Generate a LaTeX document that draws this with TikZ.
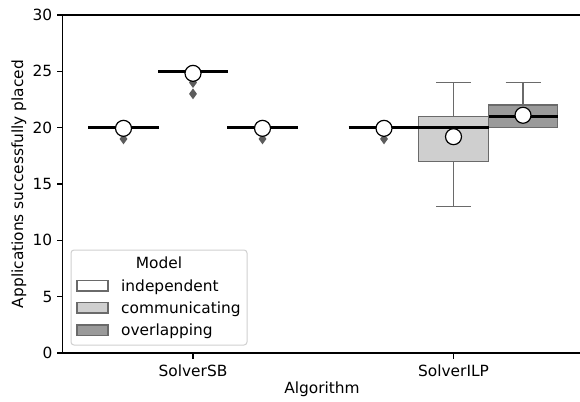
\documentclass[tikz,border=0pt]{standalone}
\usepackage{fontspec}
\setmainfont{DejaVu Sans}
\usetikzlibrary{shapes.geometric}
\definecolor{edgegray}{HTML}{6A6A6A}
\definecolor{fliergray}{HTML}{5C5C5C}
\definecolor{commfill}{HTML}{CFCFCF}
\definecolor{overfill}{HTML}{9A9A9A}
\definecolor{legborder}{HTML}{D0D0D0}
\def\datY#1{(353-11.267*(#1))}
\tikzset{
  spine/.style={black, line width=1.1pt},
  tickline/.style={black, line width=1.1pt},
  ticklab/.style={inner sep=0pt, font=\fontsize{15.4}{18}\selectfont},
  boxcomm/.style={draw=edgegray, fill=commfill, line width=1.5pt},
  boxover/.style={draw=edgegray, fill=overfill, line width=1.5pt},
  boxind/.style={draw=edgegray, fill=white, line width=1.5pt},
  whisk/.style={edgegray, line width=1.6pt},
  medline/.style={black, line width=2.8pt},
  meanmk/.style={circle, draw=black, fill=white, inner sep=0pt, minimum size=16pt, line width=1.2pt},
  flier/.style={diamond, fill=fliergray, draw=none, inner sep=0pt, minimum width=8pt, minimum height=11pt},
}
\begin{document}
\begin{tikzpicture}[x=1pt, y=-1pt]
\useasboundingbox (0,0) rectangle (580,401);
\fill[white] (0,0) rectangle (580,401);

% ---- SolverILP boxes ----
\draw[whisk] (453.5,{\datY{21}}) -- (453.5,{\datY{24}});
\draw[whisk] (436,{\datY{24}}) -- (471,{\datY{24}});
\draw[whisk] (453.5,{\datY{17}}) -- (453.5,{\datY{13}});
\draw[whisk] (436,{\datY{13}}) -- (471,{\datY{13}});
\draw[boxcomm] (418.5,{\datY{17}}) rectangle (488.5,{\datY{21}});

\draw[whisk] (523,{\datY{22}}) -- (523,{\datY{24}});
\draw[whisk] (505.5,{\datY{24}}) -- (540.5,{\datY{24}});
\draw[boxover] (488.5,{\datY{20}}) rectangle (557.5,{\datY{22}});

% ---- medians ----
\draw[medline] (88,{\datY{20}}) -- (158.5,{\datY{20}});
\draw[medline] (158,{\datY{25}}) -- (228,{\datY{25}});
\draw[medline] (227,{\datY{20}}) -- (297.5,{\datY{20}});
\draw[medline] (348.5,{\datY{20}}) -- (418.5,{\datY{20}});
\draw[medline] (418.5,{\datY{20}}) -- (488.5,{\datY{20}});
\draw[medline] (488.5,{\datY{21}}) -- (557.5,{\datY{21}});

% ---- fliers ----
\node[flier] (f1) at (123.5,{\datY{19}}) {};
\node[flier] (f2) at (193,{\datY{24}}) {};
\node[flier] (f3) at (193,{\datY{23}}) {};
\node[flier] (f4) at (262.5,{\datY{19}}) {};
\node[flier] (f5) at (384,{\datY{19}}) {};

% ---- means ----
\node[meanmk] (m1) at (123.5,{\datY{19.94}}) {};
\node[meanmk] (m2) at (193,{\datY{24.82}}) {};
\node[meanmk] (m3) at (262.5,{\datY{19.94}}) {};
\node[meanmk] (m4) at (384,{\datY{19.94}}) {};
\node[meanmk] (m5) at (453.5,{\datY{19.2}}) {};
\node[meanmk] (m6) at (523,{\datY{21.1}}) {};

% ---- spines ----
\draw[spine] (62.5,15) -- (62.5,353);
\draw[spine] (62,15) -- (580,15);
\draw[spine] (62,353) -- (580,353);

% ---- y ticks ----
\foreach \v in {0,5,10,15,20,25,30} {
  \draw[tickline] (57,{\datY{\v}}) -- (62.5,{\datY{\v}});
  \node[ticklab, anchor=east] (yt\v) at (52.5,{\datY{\v}}) {\v};
}
% ---- x ticks ----
\draw[tickline] (193,353) -- (193,358.5);
\draw[tickline] (453.5,353) -- (453.5,358.5);
\node[ticklab, anchor=base] (xt1) at (193,376) {SolverSB};
\node[ticklab, anchor=base] (xt2) at (453.5,376) {SolverILP};

% ---- axis labels ----
\node[ticklab, anchor=base] (xlab) at (322,393.5) {Algorithm};
\node[ticklab, anchor=base, rotate=90] (ylab) at (23,184) {Applications successfully placed};

% ---- legend ----
\draw[draw=legborder, fill=white, line width=1pt, rounded corners=3pt] (71,250) rectangle (247,345);
\node[ticklab, anchor=base] (legtitle) at (159,268) {Model};
\draw[boxind, line width=1.2pt] (77,280.5) rectangle (108,291);
\draw[boxcomm, line width=1.2pt] (77,302.5) rectangle (108,313);
\draw[boxover, line width=1.2pt] (77,325) rectangle (108,335.5);
\node[ticklab, anchor=base west] (l1) at (121,291) {independent};
\node[ticklab, anchor=base west] (l2) at (121,313) {communicating};
\node[ticklab, anchor=base west] (l3) at (121,335.5) {overlapping};
\end{tikzpicture}
\end{document}
